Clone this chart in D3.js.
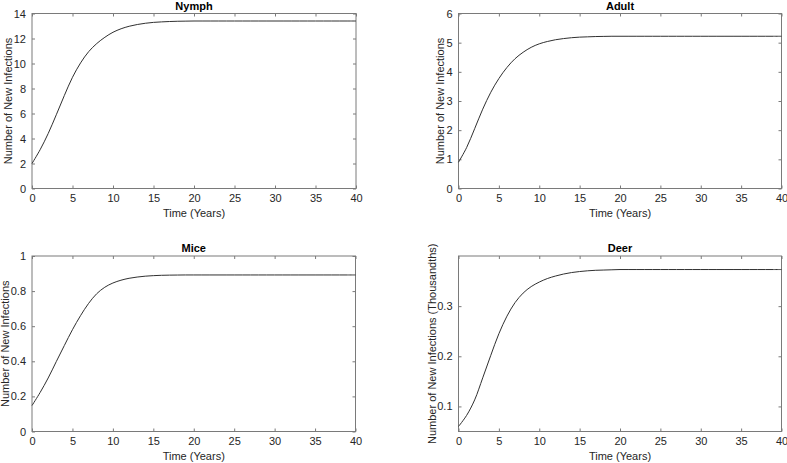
<!DOCTYPE html>
<html>
<head>
<meta charset="utf-8">
<script src="https://cdn.jsdelivr.net/npm/d3@7"></script>
<style>
  html, body { margin: 0; padding: 0; background: #fff; }
  svg { display: block; font-family: "Liberation Sans", Arial, Helvetica, sans-serif; }
</style>
</head>
<body>
<svg id="chart" width="787" height="463"></svg>
<script>
// ---- Data ----
const years = d3.range(0, 41); // 0..40
const nymph = [2.0, 3.1, 4.4, 5.9, 7.45, 8.9, 10.05, 10.95, 11.6, 12.1, 12.5, 12.78, 12.98, 13.12, 13.22, 13.29, 13.33, 13.36, 13.38, 13.39, 13.4,
  13.4, 13.4, 13.4, 13.4, 13.4, 13.4, 13.4, 13.4, 13.4, 13.4, 13.4, 13.4, 13.4, 13.4, 13.4, 13.4, 13.4, 13.4, 13.4, 13.4];
const adult = [0.9, 1.4, 2.05, 2.72, 3.3, 3.77, 4.15, 4.45, 4.67, 4.84, 4.96, 5.04, 5.1, 5.14, 5.17, 5.19, 5.2, 5.21, 5.215, 5.22, 5.22,
  5.22, 5.22, 5.22, 5.22, 5.22, 5.22, 5.22, 5.22, 5.22, 5.22, 5.22, 5.22, 5.22, 5.22, 5.22, 5.22, 5.22, 5.22, 5.22, 5.22];
const mice = [0.148, 0.222, 0.305, 0.398, 0.49, 0.58, 0.66, 0.73, 0.785, 0.822, 0.846, 0.862, 0.873, 0.88, 0.885, 0.888, 0.89, 0.891, 0.8915, 0.892, 0.892,
  0.892, 0.892, 0.892, 0.892, 0.892, 0.892, 0.892, 0.892, 0.892, 0.892, 0.892, 0.892, 0.892, 0.892, 0.892, 0.892, 0.892, 0.892, 0.892, 0.892];
const deer = [0.06, 0.082, 0.113, 0.157, 0.202, 0.245, 0.28, 0.307, 0.326, 0.339, 0.348, 0.355, 0.36, 0.364, 0.367, 0.369, 0.3705, 0.3715, 0.372, 0.3725, 0.373,
  0.373, 0.373, 0.373, 0.373, 0.373, 0.373, 0.373, 0.373, 0.373, 0.373, 0.373, 0.373, 0.373, 0.373, 0.373, 0.373, 0.373, 0.373, 0.373, 0.373];

const xTicks = [0, 5, 10, 15, 20, 25, 30, 35, 40];
const nymphTicks = [0, 2, 4, 6, 8, 10, 12, 14];
const adultTicks = [0, 1, 2, 3, 4, 5, 6];
const miceTicks = [0, 0.2, 0.4, 0.6, 0.8, 1];
const deerTicks = [0.1, 0.2, 0.3];

const titles = ["Nymph", "Adult", "Mice", "Deer"];
const yLabels = ["Number of New Infections", "Number of New Infections", "Number of New Infections", "Number of New Infections (Thousandths)"];
const xLabel = "Time (Years)";

// ---- Layout ----
const panels = [
  { title: titles[0], values: nymph, yDomain: [0, 14], yTicks: nymphTicks, yLabel: yLabels[0], box: [32, 13.5, 356, 188.5], labelX: 8.5 },
  { title: titles[1], values: adult, yDomain: [0, 6], yTicks: adultTicks, yLabel: yLabels[1], box: [458.5, 13.5, 781.5, 188.5], labelX: 440 },
  { title: titles[2], values: mice, yDomain: [0, 1], yTicks: miceTicks, yLabel: yLabels[2], box: [32, 256, 355.5, 431.5], labelX: 5 },
  { title: titles[3], values: deer, yDomain: [0.05, 0.4], yTicks: deerTicks, yLabel: yLabels[3], box: [458.5, 256, 781.5, 431.5], labelX: 432 }
];

const svg = d3.select("#chart");
const axisColor = "#262626";
const boxColor = "#7a7a7a";
const tickLen = 3;
const fmt = v => d3.format("~g")(v);

panels.forEach(p => {
  const [x0, y0, x1, y1] = p.box;
  const x = d3.scaleLinear().domain([0, 40]).range([x0, x1]);
  const y = d3.scaleLinear().domain(p.yDomain).range([y1, y0]);
  const g = svg.append("g");

  const bottom = g.append("g").attr("transform", `translate(0,${y1})`)
    .call(d3.axisBottom(x).tickValues(xTicks).tickSize(-tickLen).tickPadding(6).tickFormat(fmt));
  const top = g.append("g").attr("transform", `translate(0,${y0})`)
    .call(d3.axisTop(x).tickValues(xTicks).tickSize(-tickLen).tickFormat(""));
  const left = g.append("g").attr("transform", `translate(${x0},0)`)
    .call(d3.axisLeft(y).tickValues(p.yTicks).tickSize(-tickLen).tickPadding(6).tickFormat(fmt));
  const right = g.append("g").attr("transform", `translate(${x1},0)`)
    .call(d3.axisRight(y).tickValues(p.yTicks).tickSize(-tickLen).tickFormat(""));

  [bottom, top, left, right].forEach(a => {
    a.select(".domain").remove();
    a.selectAll(".tick line").attr("stroke", boxColor).attr("stroke-width", 1);
    a.selectAll(".tick text").attr("fill", axisColor).style("font-size", "11px")
      .style("font-family", '"Liberation Sans", Arial, sans-serif');
  });

  g.append("rect").attr("x", x0).attr("y", y0).attr("width", x1 - x0).attr("height", y1 - y0)
    .attr("fill", "none").attr("stroke", boxColor).attr("stroke-width", 1);

  const line = d3.line().x((d, i) => x(years[i])).y(d => y(d)).curve(d3.curveCatmullRom.alpha(0.5));
  g.append("path").datum(p.values).attr("d", line)
    .attr("fill", "none").attr("stroke", "#303030").attr("stroke-width", 1);

  g.append("text").attr("x", (x0 + x1) / 2).attr("y", y0 - 4)
    .attr("text-anchor", "middle").attr("font-weight", "bold").attr("font-size", 11)
    .attr("fill", "#000").text(p.title);

  g.append("text").attr("x", (x0 + x1) / 2).attr("y", y1 + 28.5)
    .attr("text-anchor", "middle").attr("font-size", 11).attr("fill", axisColor).text(xLabel);

  g.append("text")
    .attr("transform", `translate(${p.labelX},${(y0 + y1) / 2}) rotate(-90)`)
    .attr("text-anchor", "middle").attr("dy", "0.35em").attr("font-size", 11)
    .attr("fill", axisColor).text(p.yLabel);
});
</script>
</body>
</html>
